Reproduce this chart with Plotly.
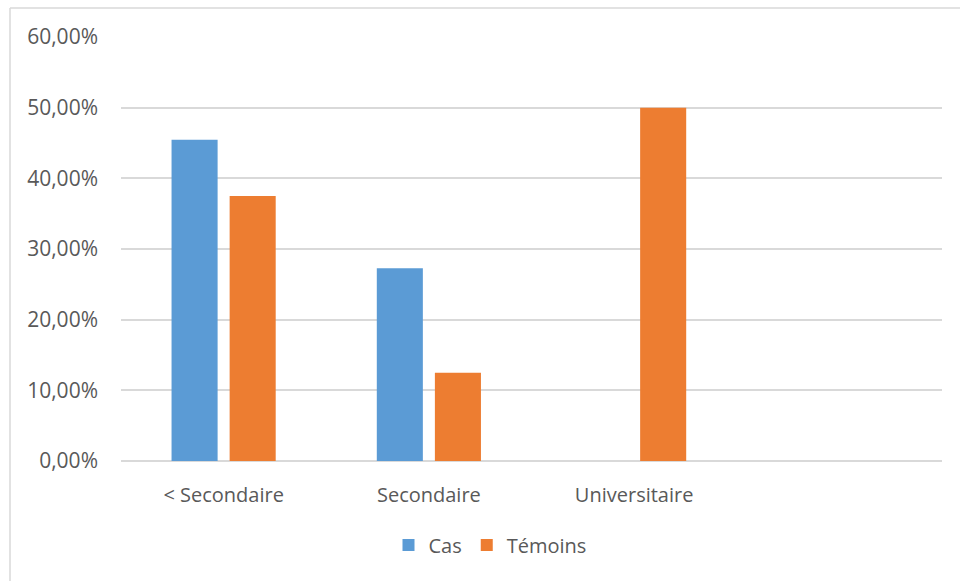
import plotly.graph_objects as go

categories = ["< Secondaire", "Secondaire", "Universitaire"]
cas = [0.4545, 0.2727, 0.0]
temoins = [0.375, 0.125, 0.50]
tick_vals = [0, 0.1, 0.2, 0.3, 0.4, 0.5, 0.6]
tick_text = ["0,00%", "10,00%", "20,00%", "30,00%", "40,00%", "50,00%", "60,00%"]

W, H = 960, 581
L, R, T, B = 121, W - 942, 37, H - 461
pw, ph = W - L - R, H - T - B

def px(x):
    return (x - L) / pw

def py(y):
    return (H - B - y) / ph

font = "Open Sans, Liberation Sans, sans-serif"
grey = "#595959"
fs = 20

fig = go.Figure()
fig.add_trace(go.Bar(name="Cas", x=categories, y=cas, marker=dict(color="#5B9BD5", line=dict(width=0))))
fig.add_trace(go.Bar(name="Témoins", x=categories, y=temoins, marker=dict(color="#ED7D31", line=dict(width=0))))

fig.update_layout(
    width=W, height=H,
    margin=dict(l=L, r=R, t=T, b=B),
    barmode="group", bargap=0.434, bargroupgap=0.207,
    plot_bgcolor="white", paper_bgcolor="white",
    font=dict(family=font, size=fs, color=grey),
    xaxis=dict(type="category", range=[-0.5, 3.5], showgrid=False, showline=False,
               ticks="", ticklabelstandoff=20, tickfont=dict(size=fs, color=grey),
               fixedrange=True),
    yaxis=dict(range=[0, 0.6], tickvals=tick_vals, ticktext=tick_text,
               showgrid=True, gridcolor="#D9D9D9", gridwidth=1.5,
               zeroline=True, zerolinecolor="#D9D9D9", zerolinewidth=1.5,
               showline=False, ticks="", ticklabelstandoff=22,
               tickfont=dict(size=21, color=grey)),
    showlegend=True,
    legend=dict(orientation="h", x=px(490), xanchor="center", y=py(545), yanchor="middle",
                font=dict(size=fs, color=grey), itemwidth=30, traceorder="normal"),
    shapes=[
        dict(type="line", xref="paper", yref="paper", x0=px(10), x1=px(962), y0=py(8), y1=py(8),
             line=dict(color="#D9D9D9", width=1.5)),
        dict(type="line", xref="paper", yref="paper", x0=px(10), x1=px(10), y0=py(8), y1=py(583),
             line=dict(color="#D9D9D9", width=1.5)),
    ],
)

fig.write_html("out.html")
